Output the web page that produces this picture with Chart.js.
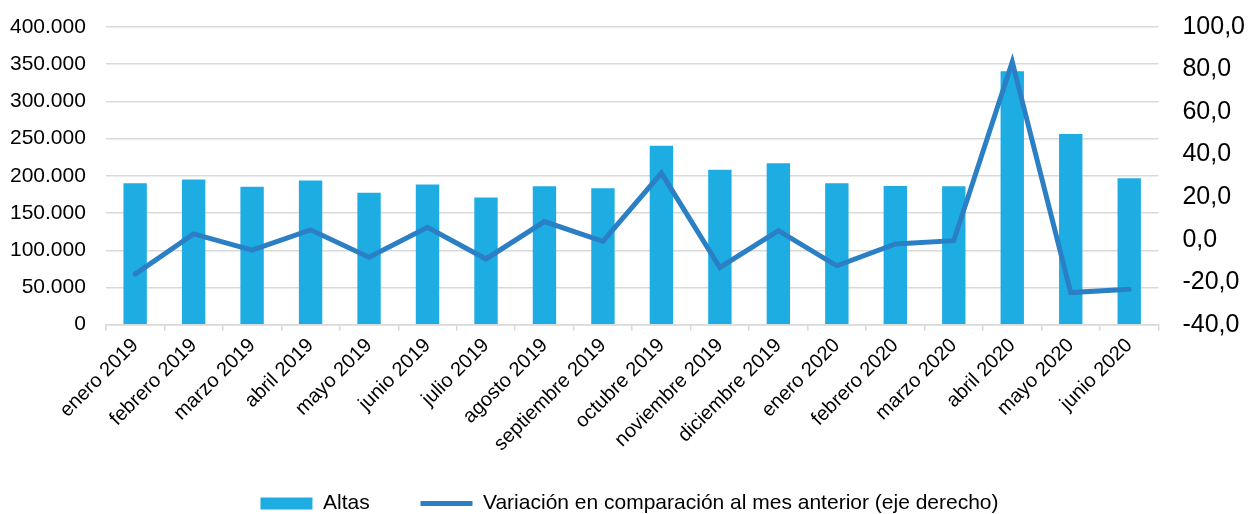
<!DOCTYPE html>
<html lang="es">
<head>
<meta charset="utf-8">
<title>Altas y variación mensual</title>
<script src="https://cdn.jsdelivr.net/npm/chart.js@4.4.1/dist/chart.umd.min.js"></script>
<style>
    html, body { margin: 0; padding: 0; background: #fff; }
    #wrap { width: 1249px; height: 514px; position: relative; }
</style>
</head>
<body>
<div id="wrap"><canvas id="altasChart"></canvas></div>
<script>
// Meses (eje de categorías)
const meses = [
    'enero 2019', 'febrero 2019', 'marzo 2019', 'abril 2019', 'mayo 2019', 'junio 2019',
    'julio 2019', 'agosto 2019', 'septiembre 2019', 'octubre 2019', 'noviembre 2019',
    'diciembre 2019', 'enero 2020', 'febrero 2020', 'marzo 2020', 'abril 2020',
    'mayo 2020', 'junio 2020'
];

// Altas (eje izquierdo)
const altas = [
    190000, 195000, 185400, 193900, 177400, 188500, 171000, 185900, 183200,
    240600, 208300, 216800, 190000, 186300, 185900, 340700, 256300, 196600
];

// Variación en comparación al mes anterior, % (eje derecho)
const variacion = [
    -16.2, 2.7, -4.9, 4.6, -8.3, 5.8, -9.1, 8.5, -0.8,
    31.3, -13.1, 4.2, -12.3, -2.0, -0.5, 83.6, -24.9, -23.3
];

// Marcas de los ejes
const ticksIzq = [0, 50000, 100000, 150000, 200000, 250000, 300000, 350000, 400000];
const ticksDer = [-40, -20, 0, 20, 40, 60, 80, 100];

const COLOR_BAR = '#1eade3';
const COLOR_LINE = '#2b80c5';
const COLOR_GRID = '#d9d9d9';

Chart.defaults.font.family = "'Liberation Sans', Arial, sans-serif";
Chart.defaults.color = '#000';

function fmtMiles(v) {
    return String(v).replace(/\B(?=(\d{3})+(?!\d))/g, '.');
}

function fmtDecimal(v) {
    return v.toFixed(1).replace('.', ',');
}

// los ejes verticales no necesitan margen extra arriba/abajo
function sinMargenVertical(scale) {
    scale.paddingTop = 0;
    scale.paddingBottom = 0;
}

// separación extra entre las dos entradas de la leyenda
const legendGap = '\u00a0'.repeat(7);

new Chart(document.getElementById('altasChart'), {
    type: 'bar',
    data: {
        labels: meses,
        datasets: [{
            label: 'Altas',
            data: altas,
            backgroundColor: COLOR_BAR,
            borderWidth: 0,
            barPercentage: 0.4,
            categoryPercentage: 1,
            pointStyle: 'rect',
            yAxisID: 'y',
            order: 1
        }, {
            type: 'line',
            label: 'Variación en comparación al mes anterior (eje derecho)',
            data: variacion,
            borderColor: COLOR_LINE,
            backgroundColor: COLOR_LINE,
            borderWidth: 5,
            borderCapStyle: 'round',
            pointRadius: 0,
            pointHoverRadius: 0,
            pointStyle: 'line',
            tension: 0,
            fill: false,
            yAxisID: 'y1',
            order: 0
        }]
    },
    options: {
        responsive: true,
        maintainAspectRatio: false,
        animation: false,
        layout: { padding: { top: 27, left: -10, right: -20, bottom: -10 } },
        plugins: {
            tooltip: { enabled: false },
            legend: {
                position: 'bottom',
                labels: {
                    usePointStyle: true,
                    pointStyleWidth: 52,
                    boxHeight: 12,
                    padding: 10,
                    font: { size: 21 },
                    sort: (a, b) => a.datasetIndex - b.datasetIndex,
                    generateLabels: (chart) => {
                        const items = Chart.defaults.plugins.legend.labels.generateLabels(chart);
                        items.forEach((it) => { if (it.datasetIndex === 0) it.text += legendGap; });
                        return items;
                    }
                }
            }
        },
        scales: {
            x: {
                grid: {
                    drawOnChartArea: false,
                    drawTicks: true,
                    tickLength: 6,
                    color: COLOR_GRID,
                    lineWidth: 1.5
                },
                border: { display: true, color: COLOR_GRID, width: 1.5 },
                ticks: {
                    minRotation: 45,
                    maxRotation: 45,
                    autoSkip: false,
                    padding: 3,
                    font: { size: 20 }
                },
                afterFit: (scale) => { scale.height += 24; }
            },
            y: {
                position: 'left',
                min: 0,
                max: 400000,
                afterBuildTicks: (axis) => { axis.ticks = ticksIzq.map(v => ({ value: v })); },
                afterFit: sinMargenVertical,
                grid: { color: COLOR_GRID, lineWidth: 1.5, drawTicks: false },
                border: { display: false },
                ticks: {
                    padding: 20,
                    font: { size: 21 },
                    callback: (v) => fmtMiles(v)
                }
            },
            y1: {
                position: 'right',
                min: -40,
                max: 100,
                afterBuildTicks: (axis) => { axis.ticks = ticksDer.map(v => ({ value: v })); },
                afterFit: sinMargenVertical,
                grid: { drawOnChartArea: false, drawTicks: false },
                border: { display: false },
                ticks: {
                    padding: 24,
                    font: { size: 25 },
                    callback: (v) => fmtDecimal(v)
                }
            }
        }
    }
});
</script>
</body>
</html>
